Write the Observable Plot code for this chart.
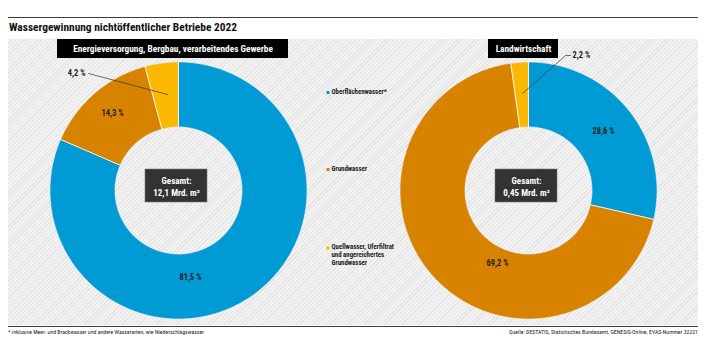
<!DOCTYPE html>
<html>
<head>
<meta charset="utf-8">
<script src="https://cdn.jsdelivr.net/npm/d3@7"></script>
<script src="https://cdn.jsdelivr.net/npm/@observablehq/plot@0.6"></script>
<style>
  html, body { margin: 0; padding: 0; background: #fff; }
  body { width: 707px; height: 354px; position: relative; overflow: hidden;
         font-family: "Roboto Condensed", "Open Sans", sans-serif; font-stretch: condensed; color: #222; }
  .rule { position: absolute; left: 8px; width: 690px; height: 0; border-top: 1.6px solid #3c3c3c; }
  #title { position: absolute; left: 9px; top: 20px; font-weight: bold; font-size: 11.4px; color: #111; white-space: nowrap; }
  #panel { position: absolute; left: 8px; top: 39px; width: 690px; height: 286px;
           background: repeating-linear-gradient(135deg, #e4e4e4 0px, #e4e4e4 1px, #f2f2f2 1px, #f2f2f2 3px); }
  .foot { position: absolute; top: 329px; font-size: 5.8px; color: #222; white-space: nowrap; }
</style>
</head>
<body>
<div class="rule" style="top:16.5px"></div>
<div id="title">Wassergewinnung nichtöffentlicher Betriebe 2022</div>
<div id="panel"></div>
<div class="rule" style="top:325.5px"></div>
<div class="foot" style="left:8px">* inklusive Meer- und Brackwasser und andere Wasserarten, wie Niederschlagswasser</div>
<div class="foot" style="right:9px">Quelle: DESTATIS, Statistisches Bundesamt, GENESIS-Online, EVAS-Nummer 32221</div>
<script>
// ---------- data ----------
const categories = ["Oberflächenwasser*", "Grundwasser", "Quellwasser, Uferfiltrat und angereichertes Grundwasser"];
const legendLabels = ["Oberflächenwasser*", "Grundwasser", "Quellwasser, Uferfiltrat\nund angereichertes\nGrundwasser"];
const panelTitles = ["Energieversorgung, Bergbau, verarbeitendes Gewerbe", "Landwirtschaft"];
const industryShares = [81.5, 14.3, 4.2];
const agricultureShares = [28.6, 69.2, 2.2];
const totals = ["12,1 Mrd. m³", "0,45 Mrd. m³"];
const colors = ["#009bd4", "#d88300", "#fab800"];

// ---------- layout ----------
const W = 690, H = 286;
const R = 128, R0 = 64;
const panels = [
  {shares: industryShares, title: panelTitles[0], total: totals[0], cx: 170, cy: 151, tx: [49, 280]},
  {shares: agricultureShares, title: panelTitles[1], total: totals[1], cx: 520, cy: 151, tx: [480, 550]}
];
// label offsets (pixels from donut centre) and anchors
const labelLayout = [
  [{dx: 12, dy: 87, anchor: "middle"}, {dx: -66, dy: -77, anchor: "middle"}, {dx: -93, dy: -117, anchor: "end", leader: [[-90, -117], [-11, -96]]}],
  [{dx: 75, dy: -59, anchor: "middle"}, {dx: -31, dy: 73, anchor: "middle"}, {dx: 44, dy: -135, anchor: "start", leader: [[42, -135], [37, -135], [-6, -97]]}]
];

const fmt = v => v.toFixed(1).replace(".", ",") + " %";

const slices = [], seps = [], labels = [], leaders = [], totalBoxes = [], headBoxes = [], boxText = [], headText = [];
panels.forEach((p, pi) => {
  let acc = 0;
  p.shares.forEach((v, i) => {
    const a0 = acc / 100 * 2 * Math.PI; acc += v;
    const a1 = acc / 100 * 2 * Math.PI;
    const n = Math.max(2, Math.ceil((a1 - a0) / (Math.PI / 360)));
    const id = pi + "-" + i;
    const pts = [];
    for (let k = 0; k <= n; k++) { const a = a0 + (a1 - a0) * k / n; pts.push([R * Math.sin(a), -R * Math.cos(a)]); }
    for (let k = n; k >= 0; k--) { const a = a0 + (a1 - a0) * k / n; pts.push([R0 * Math.sin(a), -R0 * Math.cos(a)]); }
    pts.push(pts[0]);
    pts.forEach(([x, y]) => slices.push({id, category: categories[i], x: p.cx + x, y: p.cy + y}));
    seps.push({x1: p.cx + (R0 - 1) * Math.sin(a0), y1: p.cy - (R0 - 1) * Math.cos(a0), x2: p.cx + (R + 1) * Math.sin(a0), y2: p.cy - (R + 1) * Math.cos(a0)});
    const L = labelLayout[pi][i];
    labels.push({x: p.cx + L.dx, y: p.cy + L.dy, text: fmt(v), anchor: L.anchor});
    if (L.leader) L.leader.forEach(([dx, dy]) => leaders.push({id, x: p.cx + dx, y: p.cy + dy}));
  });
  totalBoxes.push({x1: p.cx - 33, x2: p.cx + 29, y1: p.cy - 21, y2: p.cy + 12});
  headBoxes.push({x1: p.tx[0], x2: p.tx[1], y1: 0, y2: 19});
  boxText.push({x: p.cx - 2, y: p.cy - 9.5, text: "Gesamt:"});
  boxText.push({x: p.cx - 2, y: p.cy + 2.5, text: p.total});
  headText.push({x: (p.tx[0] + p.tx[1]) / 2, y: 9.8, text: p.title});
});

const legend = categories.map((c, i) => ({category: c, label: legendLabels[i], y: [53, 130, 208.5][i]}));

const font = "Roboto Condensed, Open Sans, sans-serif";

const chart = Plot.plot({
  width: W, height: H, margin: 0,
  x: {domain: [0, W], range: [0, W], axis: null},
  y: {domain: [0, H], range: [0, H], axis: null},
  color: {domain: categories, range: colors},
  style: {background: "transparent", overflow: "visible", fontFamily: font},
  marks: [
    Plot.line(slices, {x: "x", y: "y", z: "id", fill: "category", stroke: "category", strokeWidth: 0.4, curve: "linear"}),
    Plot.link(seps, {x1: "x1", y1: "y1", x2: "x2", y2: "y2", stroke: "white", strokeWidth: 0.9}),
    Plot.line(leaders, {x: "x", y: "y", z: "id", stroke: "#333", strokeWidth: 0.7, curve: "linear"}),
    Plot.rect(totalBoxes, {x1: "x1", x2: "x2", y1: "y1", y2: "y2", fill: "#333", stroke: "#777", strokeWidth: 0.6}),
    Plot.rect(headBoxes, {x1: "x1", x2: "x2", y1: "y1", y2: "y2", fill: "#000"}),
    Plot.text(boxText, {x: "x", y: "y", text: "text", fill: "white", fontWeight: "bold", fontSize: 9, fontFamily: font}),
    Plot.text(headText, {x: "x", y: "y", text: "text", fill: "white", fontWeight: "bold", fontSize: 9.3, fontFamily: font}),
    Plot.text(labels.filter(d => d.anchor === "middle"), {x: "x", y: "y", text: "text", fill: "#222", fontWeight: "bold", fontSize: 8.4, fontFamily: font}),
    Plot.text(labels.filter(d => d.anchor === "end"), {x: "x", y: "y", text: "text", textAnchor: "end", fill: "#222", fontWeight: "bold", fontSize: 8.4, fontFamily: font}),
    Plot.text(labels.filter(d => d.anchor === "start"), {x: "x", y: "y", text: "text", textAnchor: "start", fill: "#222", fontWeight: "bold", fontSize: 8.4, fontFamily: font}),
    Plot.dot(legend, {x: () => 319.5, y: "y", symbol: "square", r: 1.7, fill: "category", stroke: null}),
    Plot.text(legend, {x: () => 323, y: "y", text: "label", textAnchor: "start", lineAnchor: "top", dy: -4, lineHeight: 1.12, fill: "#222", fontWeight: "bold", fontSize: 6.8, fontFamily: font})
  ]
});
document.getElementById("panel").appendChild(chart);
</script>
</body>
</html>
